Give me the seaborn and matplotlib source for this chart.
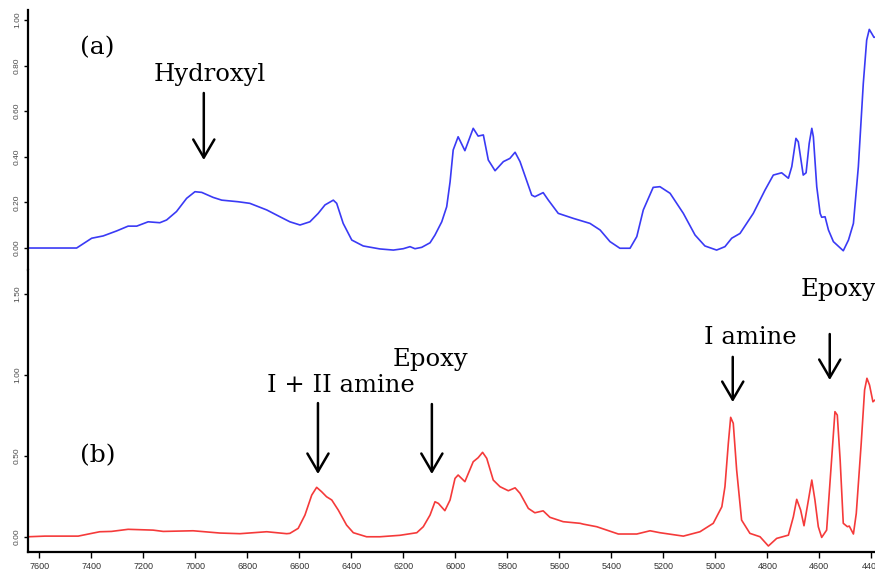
import matplotlib
matplotlib.use("Agg")
import matplotlib.pyplot as plt
import seaborn as sns
import pandas as pd

# Spectrum (a): wavenumber (cm-1) and absorbance
wn_a = [7643, 7533, 7456, 7398, 7354, 7302, 7258, 7225, 7181, 7136, 7110, 7072,
        7033, 7001, 6975, 6931, 6898, 6835, 6790, 6725, 6674, 6636, 6597, 6559,
        6527, 6501, 6469, 6456, 6431, 6398, 6354, 6290, 6238, 6200, 6174, 6155,
        6129, 6097, 6078, 6052, 6033, 6020, 6008, 5989, 5963, 5931, 5912, 5892,
        5873, 5847, 5815, 5790, 5770, 5751, 5706, 5694, 5662, 5642, 5604, 5546,
        5482, 5443, 5405, 5367, 5328, 5302, 5277, 5239, 5213, 5174, 5123, 5078,
        5040, 4995, 4963, 4937, 4905, 4854, 4809, 4777, 4745, 4719, 4706, 4690,
        4681, 4662, 4651, 4639, 4629, 4623, 4610, 4597, 4591, 4578, 4565, 4546,
        4508, 4488, 4469, 4450, 4431, 4418, 4408, 4398, 4390, 4386]
abs_a = [0.000, 0.000, 0.000, 0.043, 0.053, 0.075, 0.096, 0.096, 0.115, 0.111, 0.123, 0.160,
         0.218, 0.247, 0.244, 0.222, 0.210, 0.203, 0.196, 0.167, 0.137, 0.115, 0.101, 0.115,
         0.152, 0.189, 0.210, 0.196, 0.108, 0.035, 0.009, -0.004, -0.009, -0.003, 0.006, -0.003,
         0.003, 0.023, 0.057, 0.115, 0.181, 0.290, 0.430, 0.488, 0.427, 0.525, 0.491, 0.496,
         0.386, 0.339, 0.379, 0.393, 0.420, 0.379, 0.232, 0.225, 0.243, 0.210, 0.152, 0.130,
         0.108, 0.079, 0.028, -0.001, -0.001, 0.050, 0.167, 0.266, 0.269, 0.240, 0.152, 0.057,
         0.009, -0.009, 0.006, 0.043, 0.064, 0.152, 0.254, 0.320, 0.330, 0.306, 0.357, 0.481,
         0.466, 0.320, 0.330, 0.459, 0.525, 0.488, 0.269, 0.152, 0.135, 0.137, 0.079, 0.028,
         -0.012, 0.035, 0.108, 0.357, 0.722, 0.912, 0.959, 0.940, 0.924, 0.925]

# Spectrum (b): wavenumber (cm-1) and absorbance
wn_b = [7643, 7578, 7450, 7398, 7367, 7322, 7258, 7162, 7123, 7008, 6905, 6828,
        6725, 6648, 6636, 6604, 6578, 6552, 6533, 6514, 6495, 6475, 6450, 6418,
        6392, 6341, 6290, 6213, 6148, 6123, 6097, 6078, 6065, 6040, 6020, 6001,
        5989, 5963, 5931, 5912, 5895, 5879, 5854, 5828, 5796, 5770, 5751, 5719,
        5694, 5662, 5636, 5585, 5520, 5508, 5456, 5373, 5302, 5251, 5213, 5123,
        5059, 5008, 4975, 4963, 4950, 4941, 4931, 4918, 4899, 4867, 4828, 4796,
        4764, 4719, 4700, 4687, 4672, 4659, 4642, 4629, 4617, 4604, 4591, 4572,
        4553, 4540, 4531, 4520, 4508, 4492, 4485, 4469, 4458, 4439, 4426, 4417,
        4407, 4394, 4386]
abs_b = [0.000, 0.004, 0.004, 0.021, 0.031, 0.033, 0.046, 0.041, 0.033, 0.037, 0.023, 0.019,
         0.031, 0.019, 0.021, 0.052, 0.134, 0.257, 0.305, 0.278, 0.247, 0.227, 0.165, 0.072,
         0.025, 0.000, 0.000, 0.009, 0.025, 0.062, 0.134, 0.216, 0.206, 0.161, 0.227, 0.360,
         0.381, 0.340, 0.463, 0.488, 0.521, 0.484, 0.350, 0.309, 0.284, 0.302, 0.268, 0.175,
         0.148, 0.160, 0.120, 0.093, 0.083, 0.078, 0.062, 0.017, 0.017, 0.037, 0.025, 0.004,
         0.031, 0.083, 0.185, 0.309, 0.577, 0.737, 0.700, 0.412, 0.103, 0.021, 0.000, -0.057,
         -0.010, 0.010, 0.123, 0.231, 0.165, 0.068, 0.227, 0.350, 0.227, 0.062, -0.004, 0.041,
         0.473, 0.772, 0.751, 0.473, 0.083, 0.062, 0.066, 0.017, 0.144, 0.577, 0.906, 0.978,
         0.936, 0.833, 0.844]

x_ticks = list(range(7600, 4399, -200))
y_ticks_a = [0.0, 0.2, 0.4, 0.6, 0.8, 1.0]
y_ticks_b = [0.0, 0.5, 1.0, 1.5]

# Band assignments: (label, arrow wavenumber, arrow tail, arrow head, text x, text y)
labels_a = [("Hydroxyl", 6967, 0.68, 0.386, 6943, 0.76)]
labels_b = [("I + II amine", 6528, 0.825, 0.387, 6440, 0.936),
            ("Epoxy", 6090, 0.819, 0.387, 6097, 1.091),
            ("I amine", 4933, 1.11, 0.831, 4867, 1.227),
            ("Epoxy", 4560, 1.251, 0.967, 4528, 1.523)]

sns.set_style("ticks")
plt.rcParams["font.family"] = ["Liberation Sans", "DejaVu Sans"]
plt.rcParams["text.color"] = "black"
plt.rcParams["axes.edgecolor"] = "black"

df_a = pd.DataFrame({"wn": wn_a, "A": abs_a})
df_b = pd.DataFrame({"wn": wn_b, "A": abs_b})

fig = plt.figure(figsize=(8.75, 5.75), dpi=100)
ax_a = fig.add_axes([0.032, 0.5304, 0.968, 0.4522])
ax_b = fig.add_axes([0.032, 0.04, 0.968, 0.4904])

sns.lineplot(data=df_a, x="wn", y="A", ax=ax_a, color="#3a3af5", lw=1.2,
             sort=False, estimator=None)
sns.lineplot(data=df_b, x="wn", y="A", ax=ax_b, color="#f53a3a", lw=1.2,
             sort=False, estimator=None)

xlim = (7643, 4386)
ax_a.set_xlim(xlim)
ax_b.set_xlim(xlim)
ax_a.set_ylim(-0.0965, 1.044)
ax_b.set_ylim(-0.094, 1.646)

for ax in (ax_a, ax_b):
    ax.set_xlabel("")
    ax.set_ylabel("")
    ax.spines["right"].set_visible(False)
    ax.spines["top"].set_visible(False)
    ax.spines["left"].set_linewidth(1.6)
    ax.tick_params(axis="y", direction="out", length=3, width=1, pad=2,
                   color="black", labelsize=6, labelcolor="#4a4a4a",
                   labelrotation=90)

ax_a.spines["bottom"].set_visible(False)
ax_a.set_xticks([])
ax_a.set_yticks(y_ticks_a)
ax_a.set_yticklabels([f"{v:.2f}" for v in y_ticks_a], va="center")

ax_b.spines["bottom"].set_linewidth(1.6)
ax_b.set_xticks(x_ticks)
ax_b.set_xticklabels([str(v) for v in x_ticks])
ax_b.tick_params(axis="x", direction="out", length=4, width=1, pad=3,
                 color="black", labelsize=6.5, labelcolor="#333333")
ax_b.set_yticks(y_ticks_b)
ax_b.set_yticklabels([f"{v:.2f}" for v in y_ticks_b], va="center")

serif = ["DejaVu Serif"]
arrow = dict(arrowstyle="->,head_length=0.65,head_width=0.38", color="black",
             lw=1.8, mutation_scale=20, shrinkA=0, shrinkB=0)

def mark_bands(ax, items):
    for text, xw, y0, y1, tx, ty in items:
        ax.annotate("", xy=(xw, y1), xytext=(xw, y0), arrowprops=arrow)
        ax.text(tx, ty, text, ha="center", va="center", fontsize=17.5,
                family=serif, color="black", clip_on=False)

mark_bands(ax_a, labels_a)
mark_bands(ax_b, labels_b)

ax_a.text(7378, 0.88, "(a)", ha="center", va="center", fontsize=18,
          family=serif, color="black")
ax_b.text(7374, 0.498, "(b)", ha="center", va="center", fontsize=18,
          family=serif, color="black")

fig.savefig("out.png", dpi=100)
